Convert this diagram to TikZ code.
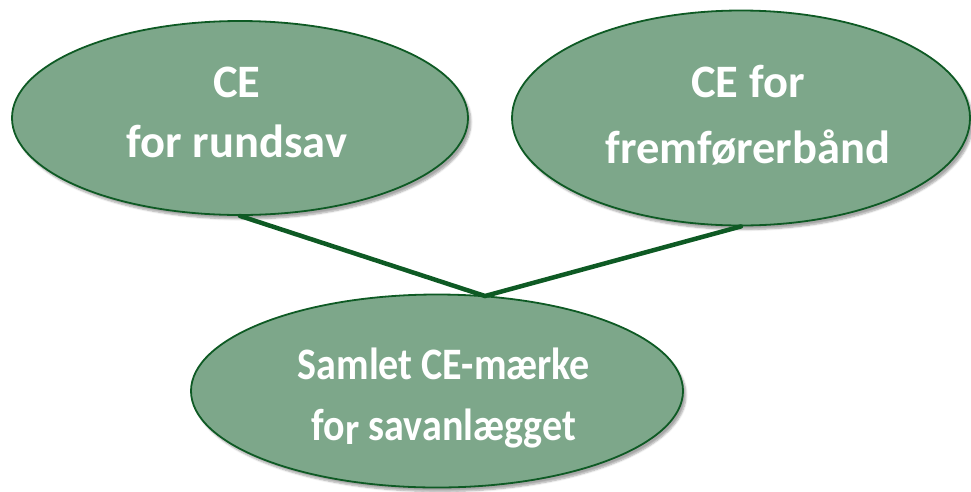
\documentclass[tikz,border=0pt]{standalone}
\usepackage{fontspec}
\setmainfont{Carlito}
\newfontfamily\condfont{Carlito}[FakeStretch=0.89]
\usetikzlibrary{shapes.geometric,shadows.blur}
\definecolor{ovfill}{HTML}{7DA78A}
\definecolor{ovline}{HTML}{0E5A24}
\begin{document}
\begin{tikzpicture}[x=1pt,y=-1pt,
  oval/.style={ellipse, draw=ovline, line width=1.8pt, fill=ovfill, inner sep=0pt,
    blur shadow={shadow xshift=3pt, shadow yshift=-4pt, shadow opacity=35, shadow blur steps=6}},
  txt/.style={text=white, inner sep=0pt, align=center},
  conn/.style={draw=ovline, line width=4.5pt, line cap=round}]
\useasboundingbox (0,0) rectangle (971,491);
\node[oval, minimum width=456pt, minimum height=194pt] (l) at (240,118) {};
\node[oval, minimum width=458pt, minimum height=215pt] (r) at (741,118) {};
\node[oval, minimum width=492pt, minimum height=193pt] (b) at (437,391) {};
\node[txt, font=\bfseries\fontsize{46.5}{60}\selectfont] (lt) at (237,112.5) {CE\\for rundsav};
\node[txt, font=\bfseries\fontsize{46.5}{66}\selectfont] (rt) at (748,115.5) {CE for\\fremførerbånd};
\node[txt, font=\condfont\bfseries\fontsize{45}{61}\selectfont] (bt) at (444,398.5) {Samlet CE-mærke\\fo\raisebox{-4pt}{r} savanlægget};
\coordinate (j) at (485,296);
\draw[conn] (l.south) -- (j) -- (r.south);
\end{tikzpicture}
\end{document}
